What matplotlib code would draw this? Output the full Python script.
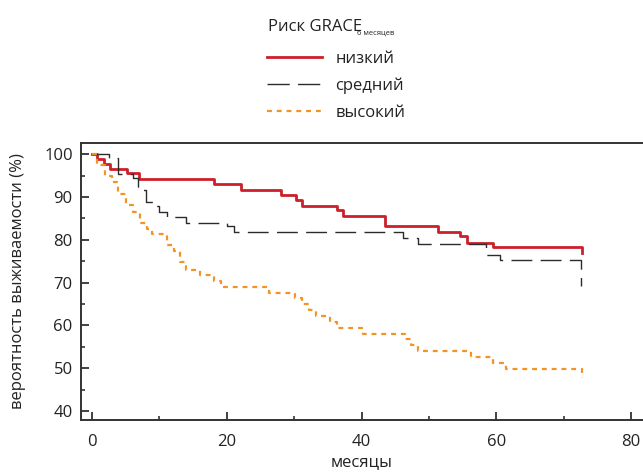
import matplotlib
matplotlib.use("Agg")
import matplotlib.pyplot as plt
from matplotlib.lines import Line2D
from matplotlib.ticker import MultipleLocator

# Kaplan-Meier curves (months, survival %)
t_low = [0, 0.8, 1.8, 2.7, 5.2, 7.0, 18.1, 22.1, 28.1, 30.3, 31.1, 36.3,
         37.3, 43.5, 51.4, 54.6, 55.6, 59.5, 72.7]
s_low = [100, 98.9, 97.6, 96.5, 95.5, 94.3, 93.0, 91.6, 90.5, 89.3, 88.0,
         87.0, 85.6, 83.3, 81.7, 80.9, 79.2, 78.3, 77.0]

t_mid = [0, 2.5, 3.9, 6.1, 6.9, 8.0, 9.1, 10.0, 11.1, 14.0, 20.1, 21.0,
         46.2, 48.4, 58.5, 60.5, 72.6]
s_mid = [100, 99.0, 95.3, 94.4, 91.6, 88.9, 87.9, 86.6, 85.3, 84.0, 83.1,
         81.7, 80.4, 79.0, 76.5, 75.2, 69.1]

t_high = [0, 0.8, 1.9, 3.0, 3.9, 5.1, 6.1, 7.1, 8.1, 8.9, 11.1, 12.1, 13.1,
          14.0, 16.0, 18.1, 19.1, 26.2, 30.1, 31.1, 32.2, 33.3, 35.3, 36.3,
          40.2, 46.4, 47.4, 48.4, 56.3, 59.5, 61.4, 72.7]
s_high = [100, 97.4, 94.9, 93.6, 90.6, 88.1, 86.4, 83.9, 82.6, 81.3, 78.7,
          77.3, 74.7, 73.0, 71.7, 70.3, 68.9, 67.6, 66.4, 65.0, 63.6, 62.3,
          60.9, 59.3, 58.1, 56.9, 55.5, 54.1, 52.6, 51.3, 49.9, 47.6]

labels = ["низкий", "средний", "высокий"]

RED = "#cc1f2a"
DARK = "#2b2b2b"
ORANGE = "#f39325"
AXC = "#333333"

plt.rcParams.update({"font.family": ["Open Sans", "DejaVu Sans"],
                     "font.size": 12})

fig = plt.figure(figsize=(6.43, 4.73), dpi=100)
ax = fig.add_axes([81 / 643, 53 / 473, 1 - 81 / 643, 277 / 473])

ax.step(t_low, s_low, where="post", color=RED, lw=2.0)
ax.step(t_mid, s_mid, where="post", color=DARK, lw=1.0,
        dashes=(15, 6))
ax.step(t_high, s_high, where="post", color=ORANGE, lw=1.6,
        dashes=(2.2, 2.2))

ax.set_xlim(-1.63, 81.75)
ax.set_ylim(37.9, 102.6)
ax.xaxis.set_major_locator(MultipleLocator(20))
ax.xaxis.set_minor_locator(MultipleLocator(10))
ax.yaxis.set_major_locator(MultipleLocator(10))
ax.yaxis.set_minor_locator(MultipleLocator(5))
ax.tick_params(which="major", direction="in", length=6, width=1.3,
               color=AXC, labelcolor="#222222", labelsize=12, pad=6)
ax.tick_params(axis="x", which="major", pad=10)
ax.tick_params(which="minor", direction="in", length=3, width=1.2,
               color=AXC)
for side in ("left", "bottom", "top"):
    ax.spines[side].set_color(AXC)
    ax.spines[side].set_linewidth(1.4)
ax.spines["right"].set_visible(False)

ax.set_xlabel("месяцы", fontsize=12, color="#222222", labelpad=3)
ax.set_ylabel("вероятность выживаемости (%)", fontsize=12,
              color="#222222", labelpad=13)

# legend with custom title (subscript drawn as separate text)
fig.text(268 / 643, 1 - 31 / 473, "Риск GRACE", fontsize=12,
         color="#222222", va="baseline", ha="left")
fig.text(357 / 643, 1 - 35 / 473, "6 месяцев", fontsize=5.5,
         color="#222222", va="baseline", ha="left")

handles = [Line2D([], [], color=RED, lw=2.0),
           Line2D([], [], color=DARK, lw=1.0, dashes=(16, 6)),
           Line2D([], [], color=ORANGE, lw=1.6, dashes=(2.2, 2.2))]
fig.legend(handles, labels, loc="upper left",
           bbox_to_anchor=(267 / 643, 1 - 51 / 473), frameon=False,
           fontsize=12, handlelength=3.3, handletextpad=0.8,
           labelspacing=0.65, borderpad=0, borderaxespad=0,
           labelcolor="#222222")

fig.savefig("out.png", dpi=100)
